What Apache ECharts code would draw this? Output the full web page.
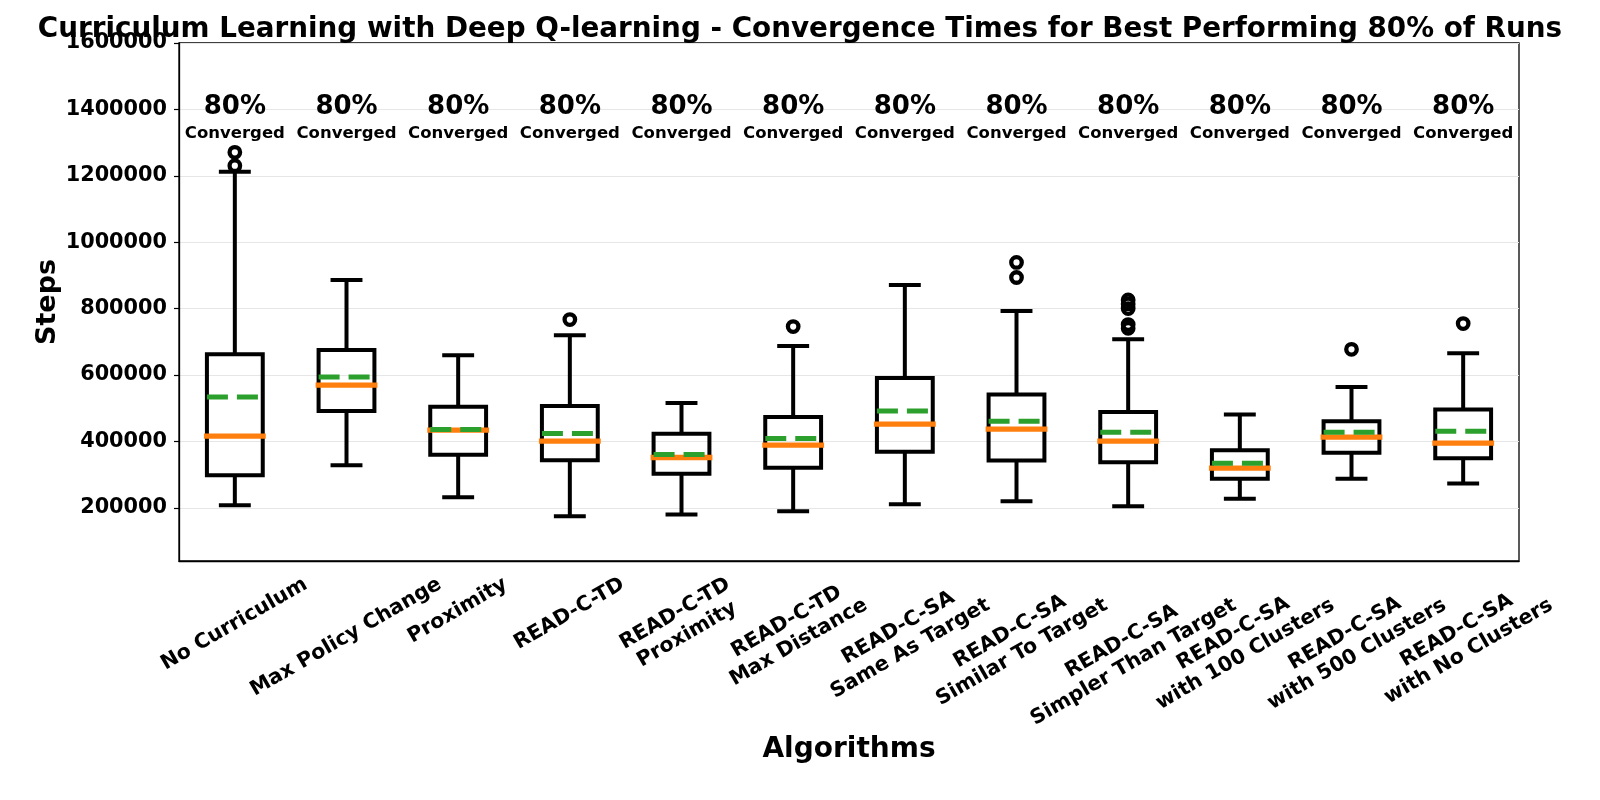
<!DOCTYPE html>
<html>
<head>
<meta charset="utf-8">
<script src="https://cdn.jsdelivr.net/npm/echarts@6/dist/echarts.min.js"></script>
<style>
	html,body{margin:0;padding:0;background:#fff;}
	#chart{width:1600px;height:800px;}
</style>
</head>
<body>
<div id="chart"></div>
<script>
// algorithms on the x axis
var categories=[
	'No Curriculum',
	'Max Policy Change',
	'Proximity',
	'READ-C-TD',
	'READ-C-TD\nProximity',
	'READ-C-TD\nMax Distance',
	'READ-C-SA\nSame As Target',
	'READ-C-SA\nSimilar To Target',
	'READ-C-SA\nSimpler Than Target',
	'READ-C-SA\nwith 100 Clusters',
	'READ-C-SA\nwith 500 Clusters',
	'READ-C-SA\nwith No Clusters'
];
// box statistics (steps)
var whiskerLow=[207800,328500,232000,174700,179800,189700,210900,219900,204800,227100,287500,273300];
var q1=[298300,491400,359900,343600,302600,320700,368900,342700,337600,287500,365900,349600];
var median=[416000,569800,434100,400900,351700,388800,452200,437100,400900,319500,413000,394900];
var q3=[662400,675400,504700,506500,423200,473300,591000,541800,488400,373800,461200,496500];
var whiskerHigh=[1212400,886600,659400,719800,515500,687500,871500,793100,707700,481400,563800,665400];
var mean=[533600,594000,436200,424100,360800,409100,491400,461200,428100,334500,428100,431100];
// fliers: [category index, steps]
var outliers=[
	[0,1270900],[0,1230500],
	[3,767100],
	[5,746000],
	[7,939100],[7,893800],
	[8,826300],[8,814200],[8,800300],[8,752000],[8,740900],
	[10,677500],
	[11,755000]
];
var convergedPct=['80%','80%','80%','80%','80%','80%','80%','80%','80%','80%','80%','80%'];
var yTicks=[200000,400000,600000,800000,1000000,1200000,1400000,1600000];

var FONT='DejaVu Sans';
var Y_MIN=40000,Y_MAX=1600000;
var PCT_Y=1407600,CONV_Y=1325600;	//where the annotations sit

var chart=echarts.init(document.getElementById('chart'));

// matplotlib centres rotated tick labels under the tick (top of the rotated box
// just below the axis); done here with a label series sitting on the x axis
var ctx=document.createElement('canvas').getContext('2d');
ctx.font='bold 20.5px "'+FONT+'"';
var xLabelData=categories.map(function(c,i){
	var lines=c.split('\n');
	var L=Math.max.apply(null,lines.map(function(s){return ctx.measureText(s).width;}));
	var H=lines.length*24;
	var d=(L*0.5+H*0.866)/2;	//half height of the rotated box
	return {value:[i,Y_MIN],label:{position:[0,12+d]}};
});

var boxData=categories.map(function(c,i){
	return [i,whiskerLow[i],q1[i],median[i],q3[i],whiskerHigh[i],mean[i]];
});

var renderBox=function(params,api){
	var i=api.value(0);
	var cx=api.coord([i,0])[0];
	var band=api.size([1,0])[0];
	var half=band*0.25;
	var cap=band*0.125+2;
	var yLow=api.coord([i,api.value(1)])[1];
	var yQ1=api.coord([i,api.value(2)])[1];
	var yMed=api.coord([i,api.value(3)])[1];
	var yQ3=api.coord([i,api.value(4)])[1];
	var yHigh=api.coord([i,api.value(5)])[1];
	var yMean=api.coord([i,api.value(6)])[1];
	var black={stroke:'#000',lineWidth:4,fill:null};
	return {
		type:'group',
		children:[
			{type:'line',shape:{x1:cx,y1:yQ1,x2:cx,y2:yLow},style:black},
			{type:'line',shape:{x1:cx,y1:yQ3,x2:cx,y2:yHigh},style:black},
			{type:'line',shape:{x1:cx-cap,y1:yLow,x2:cx+cap,y2:yLow},style:black},
			{type:'line',shape:{x1:cx-cap,y1:yHigh,x2:cx+cap,y2:yHigh},style:black},
			{type:'rect',shape:{x:cx-half,y:yQ3,width:half*2,height:yQ1-yQ3},style:black},
			{type:'line',shape:{x1:cx-half-3,y1:yMed,x2:cx+half+3,y2:yMed},style:{stroke:'#ff7f0e',lineWidth:5.3}},
			{type:'line',shape:{x1:cx-half,y1:yMean,x2:cx+half,y2:yMean},style:{stroke:'#2ca02c',lineWidth:5,lineDash:[21,9]}}
		]
	};
};

var option={
	animation:false,
	title:{
		text:'Curriculum Learning with Deep Q-learning - Convergence Times for Best Performing 80% of Runs',
		left:'center',
		top:16,
		padding:0,
		textStyle:{color:'#000',fontFamily:FONT,fontWeight:'bold',fontSize:27.8}
	},
	grid:{
		left:179,right:81,top:43,bottom:239,
		show:true,borderColor:'#000',borderWidth:1.3,
		outerBoundsMode:'none'
	},
	xAxis:{
		type:'category',
		data:categories,
		boundaryGap:true,
		name:'Algorithms',
		nameLocation:'middle',
		nameGap:175,
		nameMoveOverlap:false,
		nameTextStyle:{color:'#000',fontFamily:FONT,fontWeight:'bold',fontSize:28},
		axisLine:{lineStyle:{color:'#000',width:1.3}},
		axisTick:{alignWithLabel:true,interval:0,length:5,lineStyle:{color:'#000',width:1.2}},
		axisLabel:{show:false},
		splitLine:{show:false}
	},
	yAxis:{
		type:'value',
		min:Y_MIN,
		max:Y_MAX,
		name:'Steps',
		nameLocation:'middle',
		nameGap:118,
		nameMoveOverlap:false,
		nameTextStyle:{color:'#000',fontFamily:FONT,fontWeight:'bold',fontSize:27},
		axisLine:{show:true,lineStyle:{color:'#000',width:1.3}},
		axisTick:{show:true,length:5,customValues:yTicks,lineStyle:{color:'#000',width:1.2}},
		axisLabel:{
			customValues:yTicks,margin:12,
			formatter:function(v){return String(v);},
			color:'#000',fontFamily:FONT,fontWeight:'bold',fontSize:20.8
		},
		splitLine:{show:true,lineStyle:{color:'#e6e6e6',width:1.2}}
	},
	series:[
		{
			name:'boxes',
			type:'custom',
			renderItem:renderBox,
			encode:{x:0,y:[1,5]},
			data:boxData,
			z:3
		},
		{
			name:'outliers',
			type:'scatter',
			data:outliers,
			symbol:'circle',
			symbolSize:10.5,
			itemStyle:{color:'rgba(0,0,0,0)',borderColor:'#000',borderWidth:4.3,opacity:1},
			z:4
		},
		{
			name:'pct',
			type:'scatter',
			data:convergedPct.map(function(p,i){return [i,PCT_Y];}),
			symbolSize:1,
			itemStyle:{color:'rgba(0,0,0,0)',opacity:1},
			label:{
				show:true,position:'inside',
				formatter:function(p){return convergedPct[p.dataIndex];},
				color:'#000',opacity:1,fontFamily:FONT,fontWeight:'bold',fontSize:26
			},
			z:5
		},
		{
			name:'conv',
			type:'scatter',
			data:convergedPct.map(function(p,i){return [i,CONV_Y];}),
			symbolSize:1,
			itemStyle:{color:'rgba(0,0,0,0)',opacity:1},
			label:{
				show:true,position:'inside',
				formatter:'Converged',
				color:'#000',opacity:1,fontFamily:FONT,fontWeight:'bold',fontSize:16.5
			},
			z:5
		},
		{
			name:'xlabels',
			type:'scatter',
			data:xLabelData,
			symbolSize:1,
			clip:false,
			silent:true,
			itemStyle:{color:'rgba(0,0,0,0)',opacity:1},
			label:{
				show:true,rotate:30,
				align:'center',verticalAlign:'middle',
				formatter:function(p){return categories[p.dataIndex];},
				color:'#000',opacity:1,fontFamily:FONT,fontWeight:'bold',fontSize:20.5,lineHeight:24
			},
			z:5
		}
	]
};
chart.setOption(option);
</script>
</body>
</html>
